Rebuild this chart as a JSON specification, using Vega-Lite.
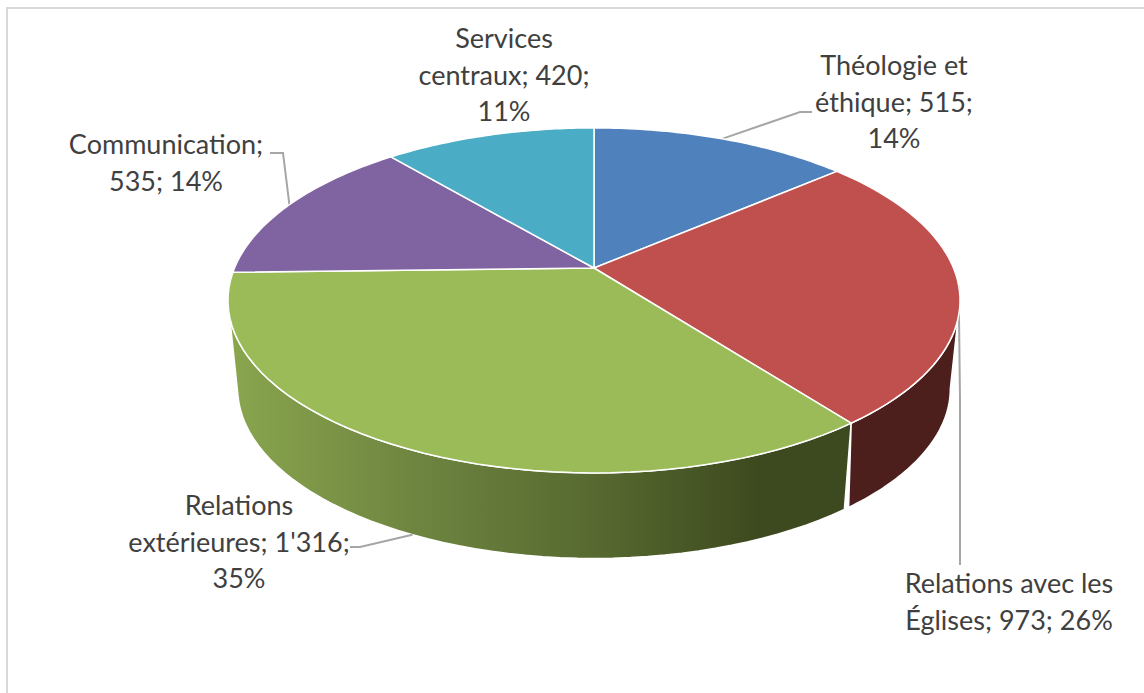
{
"$schema":"https://vega.github.io/schema/vega-lite/v6.json",
"width":1144,"height":693,"autosize":{"type":"none"},"padding":0,
"background":"#ffffff",
"config":{"view":{"stroke":null}},
"data":{"values":[
{"category":"Théologie et éthique","value":515,"rank":1,"label":"Théologie et\néthique; 515;\n14%"},
{"category":"Relations avec les Églises","value":973,"rank":2,"label":"Relations avec les\nÉglises; 973; 26%"},
{"category":"Relations extérieures","value":1316,"rank":3,"label":"Relations\nextérieures; 1'316;\n35%"},
{"category":"Communication","value":535,"rank":4,"label":"Communication;\n535; 14%"},
{"category":"Services centraux","value":420,"rank":5,"label":"Services\ncentraux; 420;\n11%"}
]},
"transform":[
{"joinaggregate":[{"op":"sum","field":"value","as":"total"}]},
{"window":[{"op":"sum","field":"value","as":"cum"}],"sort":[{"field":"rank","order":"ascending"}]},
{"calculate":"(datum.cum-datum.value)/datum.total*2*PI","as":"a0"},
{"calculate":"datum.cum/datum.total*2*PI","as":"a1"}
],
"encoding":{
"x":{"field":"px","type":"quantitative","scale":{"domain":[0,1144],"nice":false,"zero":false},"axis":null},
"y":{"field":"py","type":"quantitative","scale":{"domain":[693,0],"nice":false,"zero":false},"axis":null}
},
"layer":[
{"transform":[{"filter":"datum.rank==1"},{"calculate":"[0,1,2]","as":"k"},{"flatten":["k"]},
{"calculate":"[7,7,1144][datum.k]","as":"px"},{"calculate":"[693,8,8][datum.k]","as":"py"}],
"mark":{"type":"line","stroke":"#d9d9d9","strokeWidth":2,"interpolate":"linear"},
"encoding":{"order":{"field":"k","type":"quantitative"}}},
{"transform":[{"filter":"datum.rank==3"},{"calculate":"sequence(0,2.03,0.02)","as":"s"},{"flatten":["s"]},
{"calculate":"max(datum.a0,1.76)","as":"b0"},{"calculate":"min(datum.a1,4.523)","as":"b1"},
{"calculate":"datum.s<1.001?datum.b0+datum.s*(datum.b1-datum.b0):datum.s<2.001?datum.b1-(datum.s-1)*(datum.b1-datum.b0):datum.b0","as":"th"},
{"calculate":"datum.s<1.001||datum.s>2.001?594+359.5*sin(datum.th)/(1+0.188*cos(datum.th)):594+350*sin(datum.th)/(1+0.188*cos(datum.th))","as":"px"},
{"calculate":"datum.s<1.001||datum.s>2.001?268-166.4*cos(datum.th)/(1+0.188*cos(datum.th)):356.5-164*cos(datum.th)/(1+0.188*cos(datum.th))","as":"py"}],
"mark":{"type":"line","strokeWidth":1.5,"stroke":"#ffffff","interpolate":"linear","fill":{"gradient":"linear","x1":0,"y1":0,"x2":1,"y2":0,"stops":[{"offset":0,"color":"#8aa64e"},{"offset":0.3,"color":"#6e8540"},{"offset":0.6,"color":"#56682f"},{"offset":0.85,"color":"#3d4a1f"},{"offset":1,"color":"#3d4a1f"}]}},
"encoding":{"order":{"field":"s","type":"quantitative"}}},
{"transform":[{"filter":"datum.rank==2"},{"calculate":"sequence(0,2.03,0.02)","as":"s"},{"flatten":["s"]},
{"calculate":"max(datum.a0,1.76)","as":"b0"},{"calculate":"min(datum.a1,4.523)","as":"b1"},
{"calculate":"datum.s<1.001?datum.b0+datum.s*(datum.b1-datum.b0):datum.s<2.001?datum.b1-(datum.s-1)*(datum.b1-datum.b0):datum.b0","as":"th"},
{"calculate":"datum.s<1.001||datum.s>2.001?594+359.5*sin(datum.th)/(1+0.188*cos(datum.th)):594+350*sin(datum.th)/(1+0.188*cos(datum.th))","as":"px"},
{"calculate":"datum.s<1.001||datum.s>2.001?268-166.4*cos(datum.th)/(1+0.188*cos(datum.th)):356.5-164*cos(datum.th)/(1+0.188*cos(datum.th))","as":"py"}],
"mark":{"type":"line","strokeWidth":1.5,"stroke":"#ffffff","interpolate":"linear","fill":"#4d1f1c"},
"encoding":{"order":{"field":"s","type":"quantitative"}}},
{"transform":[{"filter":"datum.rank!=5"},{"calculate":"[0,1,2]","as":"k"},{"flatten":["k"]},
{"calculate":"(datum.a0+datum.a1)/2","as":"mid"},
{"calculate":"{'1':[[800,112],[812,112]],'2':[[960,400],[960,565]],'3':[[360,547],[350,547]],'4':[[283,153],[270,153]]}[datum.rank]","as":"el"},
{"calculate":"datum.k>0?datum.el[datum.k-1][0]:datum.rank==3?594+350*sin(datum.mid)/(1+0.188*cos(datum.mid)):594+359.5*sin(datum.mid)/(1+0.188*cos(datum.mid))","as":"px"},
{"calculate":"datum.k>0?datum.el[datum.k-1][1]:datum.rank==3?356.5-164*cos(datum.mid)/(1+0.188*cos(datum.mid)):268-166.4*cos(datum.mid)/(1+0.188*cos(datum.mid))","as":"py"}],
"mark":{"type":"line","stroke":"#a6a6a6","strokeWidth":2,"interpolate":"linear"},
"encoding":{"detail":{"field":"category"},"order":{"field":"k","type":"quantitative"}}},
{"transform":[{"calculate":"sequence(-0.02,1.03,0.02)","as":"t"},{"flatten":["t"]},
{"calculate":"datum.a0+datum.t*(datum.a1-datum.a0)","as":"th"},
{"calculate":"datum.t<-0.001||datum.t>1.001?594:594+359.5*sin(datum.th)/(1+0.188*cos(datum.th))","as":"px"},
{"calculate":"datum.t<-0.001||datum.t>1.001?268:268-166.4*cos(datum.th)/(1+0.188*cos(datum.th))","as":"py"}],
"mark":{"type":"line","strokeWidth":1.5,"stroke":"#ffffff","interpolate":"linear"},
"encoding":{"fill":{"field":"category","type":"nominal","legend":null,"scale":{"domain":["Théologie et éthique","Relations avec les Églises","Relations extérieures","Communication","Services centraux"],"range":["#4f81bd","#c0504d","#9bbb59","#8064a2","#4bacc6"]}},"order":{"field":"t","type":"quantitative"}}},
{"transform":[
{"calculate":"{'1':[894,67],'2':[1009,585],'3':[239,507],'4':[166,146],'5':[504,40]}[datum.rank]","as":"pos"},
{"calculate":"datum.pos[0]","as":"px"},{"calculate":"datum.pos[1]","as":"py"}],
"mark":{"type":"text","font":"Lato","fontSize":27,"color":"#404040","align":"center","baseline":"middle","lineBreak":"\n","lineHeight":36.5},
"encoding":{"text":{"field":"label","type":"nominal"}}}
]
}
